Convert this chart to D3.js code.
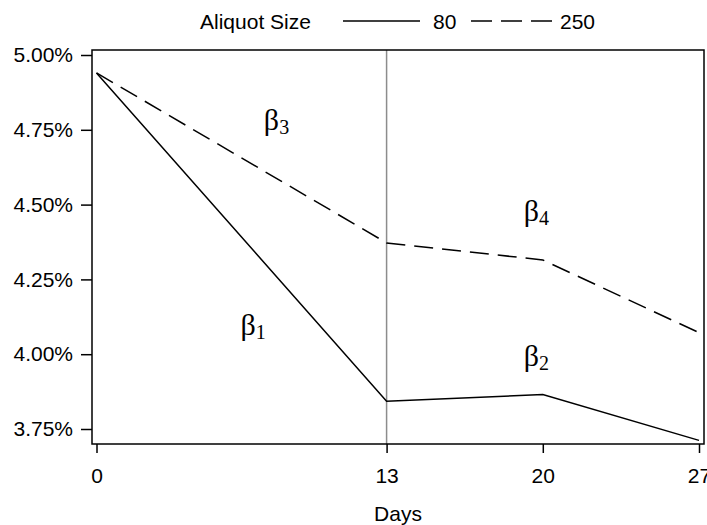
<!DOCTYPE html>
<style>
body { margin: 0; background: #fff; }
.axis .domain { display: none; }
.axis text { font-family: "Liberation Sans", Arial, sans-serif; font-size: 21px; fill: #000; }
.axis line { stroke: #000; stroke-width: 1.5; }
</style>
<svg width="707" height="525"></svg>
<script src="https://d3js.org/d3.v7.min.js"></script>
<script>

// values
var days = [0, 13, 20, 27];
var size80 = [4.94, 3.843, 3.865, 3.712];
var size250 = [4.94, 4.372, 4.315, 4.072];
var yTicks = [3.75, 4.00, 4.25, 4.50, 4.75, 5.00];
var betas = [
  {sub: "1", day: 6.45, val: 4.065},
  {sub: "2", day: 19.15, val: 3.96},
  {sub: "3", day: 7.5, val: 4.75},
  {sub: "4", day: 19.15, val: 4.445}
];

var svg = d3.select("svg");

// frame of the plot area
var frame = {left: 92, right: 704, top: 50, bottom: 444};

var x = d3.scaleLinear().domain([0, 27]).range([96.5, 699]);
var y = d3.scaleLinear().domain([3.75, 5.00]).range([429, 55]);

// reference line at day 13
svg.append("line")
    .attr("x1", x(13)).attr("x2", x(13))
    .attr("y1", frame.top).attr("y2", frame.bottom)
    .attr("stroke", "#8c8c8c")
    .attr("stroke-width", 1.5);

var line = d3.line()
    .x(function(d, i) { return x(days[i]); })
    .y(function(d) { return y(d); });

svg.append("path")
    .datum(size80)
    .attr("fill", "none")
    .attr("stroke", "#000")
    .attr("stroke-width", 1.5)
    .attr("d", line);

svg.append("path")
    .datum(size250)
    .attr("fill", "none")
    .attr("stroke", "#000")
    .attr("stroke-width", 1.5)
    .attr("stroke-dasharray", "19,9")
    .attr("d", line);

svg.append("rect")
    .attr("x", frame.left).attr("y", frame.top)
    .attr("width", frame.right - frame.left)
    .attr("height", frame.bottom - frame.top)
    .attr("fill", "none")
    .attr("stroke", "#000")
    .attr("stroke-width", 1.5);

svg.append("g")
    .attr("class", "axis")
    .attr("transform", "translate(" + frame.left + ",0)")
    .call(d3.axisLeft(y).tickValues(yTicks).tickSize(11).tickPadding(8)
      .tickFormat(function(d) { return d3.format(".2f")(d) + "%"; }));

svg.append("g")
    .attr("class", "axis")
    .attr("transform", "translate(0," + frame.bottom + ")")
    .call(d3.axisBottom(x).tickValues(days).tickSize(9).tickPadding(15));

svg.append("text")
    .attr("x", (frame.left + frame.right) / 2)
    .attr("y", 521)
    .attr("text-anchor", "middle")
    .attr("font-family", "Liberation Sans, Arial, sans-serif")
    .attr("font-size", 21)
    .text("Days");

// beta labels
var bl = svg.append("g")
    .attr("font-family", "Liberation Serif, Times New Roman, serif")
  .selectAll("text")
  .data(betas)
  .enter().append("text")
    .attr("x", function(d) { return x(d.day); })
    .attr("y", function(d) { return y(d.val); })
    .attr("font-size", 30);
bl.append("tspan").text("\u03b2");
bl.append("tspan").attr("font-size", 20).attr("dy", 4).text(function(d) { return d.sub; });

// legend
var legend = svg.append("g")
    .attr("font-family", "Liberation Sans, Arial, sans-serif")
    .attr("font-size", 21);

legend.append("text").attr("x", 200).attr("y", 29).text("Aliquot Size");
legend.append("line")
    .attr("x1", 343).attr("x2", 420).attr("y1", 21).attr("y2", 21)
    .attr("stroke", "#000").attr("stroke-width", 1.5);
legend.append("text").attr("x", 433).attr("y", 29).text("80");
legend.append("line")
    .attr("x1", 471).attr("x2", 552).attr("y1", 21).attr("y2", 21)
    .attr("stroke", "#000").attr("stroke-width", 1.5)
    .attr("stroke-dasharray", "21,9");
legend.append("text").attr("x", 560).attr("y", 29).text("250");

</script>
